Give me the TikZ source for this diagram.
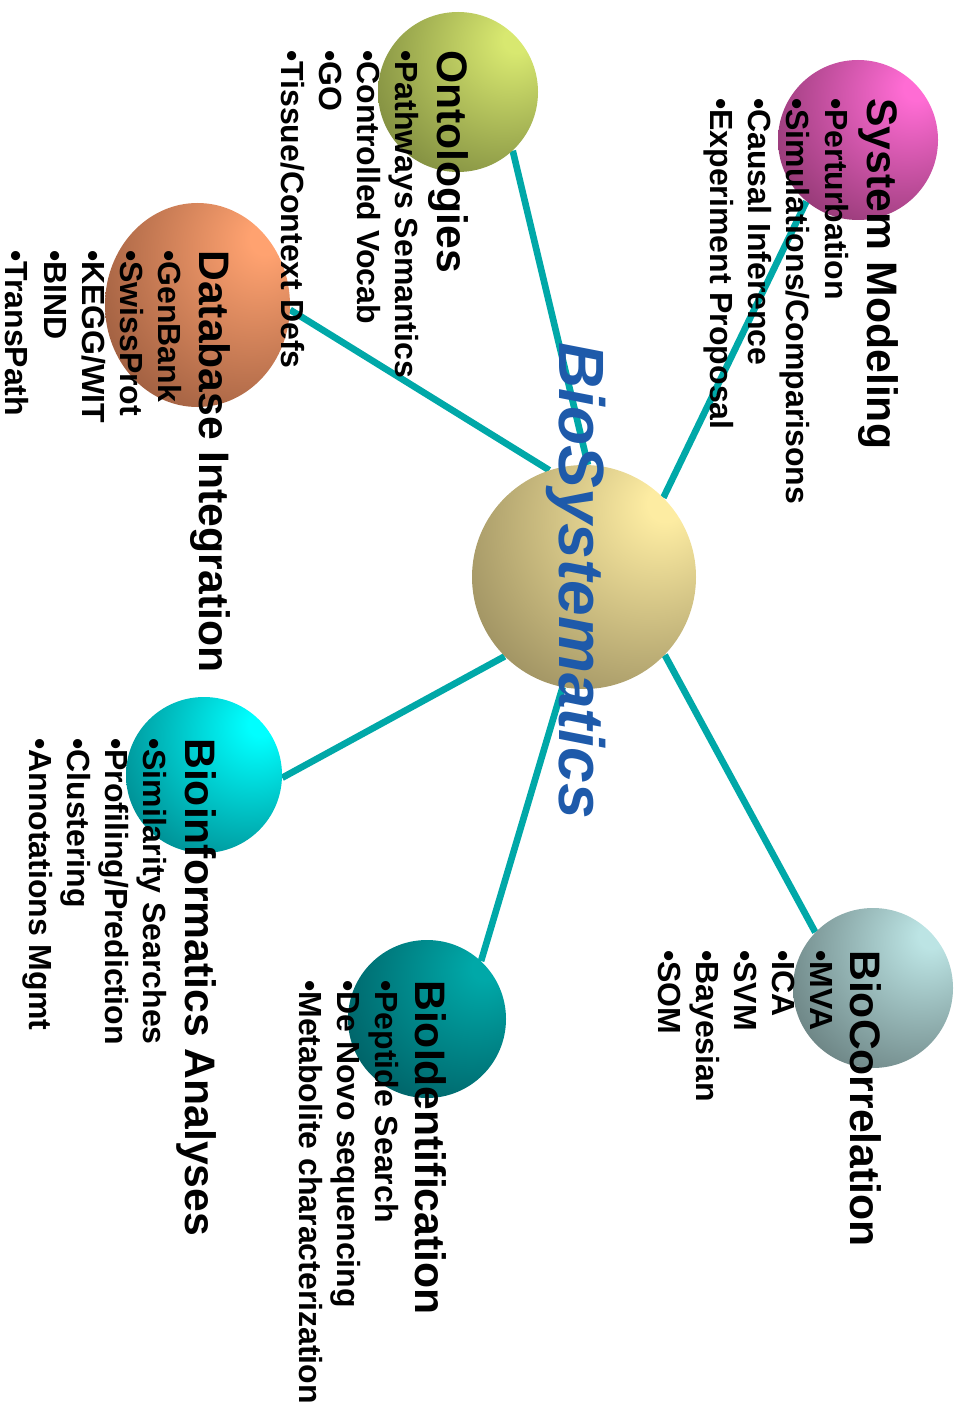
\documentclass[tikz,border=0pt]{standalone}
\usepackage{fontspec}
\setmainfont{Liberation Sans}
\usetikzlibrary{backgrounds,shapes.geometric}

% connector and label colours
\definecolor{spokecol}{RGB}{0,168,168}
\definecolor{hubtext}{RGB}{30,90,170}
% sphere colours: light side / dark side
\definecolor{hubhi}{RGB}{253,236,162}\definecolor{hublo}{RGB}{138,126,84}
\definecolor{smhi}{RGB}{255,108,212}\definecolor{smlo}{RGB}{124,46,96}
\definecolor{onhi}{RGB}{216,232,112}\definecolor{onlo}{RGB}{110,122,54}
\definecolor{dbhi}{RGB}{255,162,112}\definecolor{dblo}{RGB}{138,80,54}
\definecolor{bahi}{RGB}{0,255,255}\definecolor{balo}{RGB}{0,116,122}
\definecolor{bihi}{RGB}{0,168,168}\definecolor{bilo}{RGB}{0,82,88}
\definecolor{bchi}{RGB}{188,228,228}\definecolor{bclo}{RGB}{90,110,110}

% lit-sphere shading: soft light towards the upper right
\colorlet{orbhi}{white}\colorlet{orblo}{black}
\pgfdeclareradialshading[orbhi,orblo]{orb}{\pgfpoint{19bp}{17bp}}%
  {color(0bp)=(orbhi); color(4bp)=(orbhi); color(50bp)=(orblo); color(100bp)=(orblo)}

\tikzset{
  orb/.style n args={3}{circle, inner sep=0pt, minimum size=#1,
    /utils/exec={\colorlet{orbhi}{#2}\colorlet{orblo}{#3}},
    shade, shading=orb},
  spoke/.style={draw=spokecol, line width=5pt},
  ttl/.style={rotate=-90, anchor=base west, inner sep=0pt,
    font=\fontsize{32}{36}\selectfont\bfseries},
  bul/.style={rotate=-90, anchor=base west, inner sep=0pt,
    font=\fontsize{24}{28}\selectfont\bfseries},
}

\begin{document}
\begin{tikzpicture}[x=0.75pt, y=-0.75pt]
\useasboundingbox (0,0) rectangle (960,1408);

% spheres
\node[orb={168pt}{hubhi}{hublo}] (hub) at (584,577) {};
\node[orb={120pt}{smhi}{smlo}]   (sm)  at (858,140) {};
\node[orb={120pt}{onhi}{onlo}]   (on)  at (458,92)  {};
\node[orb={0pt}{dbhi}{dblo}, ellipse, minimum width=138.75pt, minimum height=153pt]
                                 (db)  at (197.5,305) {};
\node[orb={117pt}{bahi}{balo}]   (ba)  at (204,775) {};
\node[orb={118.5pt}{bihi}{bilo}] (bi)  at (427,1019) {};
\node[orb={120pt}{bchi}{bclo}]   (bc)  at (873,988) {};

% spokes behind the spheres
\begin{scope}[on background layer]
  \draw[spoke] (hub.45)   -- (sm.230);
  \draw[spoke] (hub.88)   -- (on.-47);
  \draw[spoke] (hub.108)  -- (db.-3);
  \draw[spoke] (hub.225)  -- (ba.-2);
  \draw[spoke] (hub.-101) -- (bi.47);
  \draw[spoke] (hub.-44)  -- (bc.136);
\end{scope}

% System Modeling
\node[ttl] (sm-t) at (867,98) {System Modeling};
\foreach \txt [count=\i from 0] in {Perturbation, Simulations/Comparisons, Causal Inference, Experiment Proposal}
  \node[bul] (sm-b\i) at (825-38.3*\i,98) {•\txt};

% Ontologies
\node[ttl] (on-t) at (437,50) {Ontologies};
\foreach \txt [count=\i from 0] in {Pathways Semantics, Controlled Vocab, GO, Tissue/Context Defs}
  \node[bul] (on-b\i) at (395-38*\i,50) {•\txt};

% Database Integration
\node[ttl] (db-t) at (199,250) {Database Integration};
\foreach \txt [count=\i from 0] in {GenBank, SwissProt, KEGG/WIT, BIND, TransPath}
  \node[bul] (db-b\i) at (158-38*\i,250) {•\txt};

% Bioinformatics Analyses
\node[ttl] (ba-t) at (185,738) {Bioinformatics Analyses};
\foreach \txt [count=\i from 0] in {Similarity Searches, Profiling/Prediction, Clustering, Annotations Mgmt}
  \node[bul] (ba-b\i) at (143-38*\i,738) {•\txt};

% BioIdentification
\node[ttl] (bi-t) at (415,980) {BioIdentification};
\foreach \txt [count=\i from 0] in {Peptide Search, De Novo sequencing, Metabolite characterization}
  \node[bul] (bi-b\i) at (375-38*\i,980) {•\txt};

% BioCorrelation
\node[ttl] (bc-t) at (850,950) {BioCorrelation};
\foreach \txt [count=\i from 0] in {MVA, ICA, SVM, Bayesian, SOM}
  \node[bul] (bc-b\i) at (810-38*\i,950) {•\txt};

% central label
\node[rotate=-90, anchor=base west, inner sep=0pt, text=hubtext,
      font=\fontsize{48}{56}\selectfont\bfseries\itshape] (hub-t) at (559,342) {BioSystematics};
\end{tikzpicture}
\end{document}
